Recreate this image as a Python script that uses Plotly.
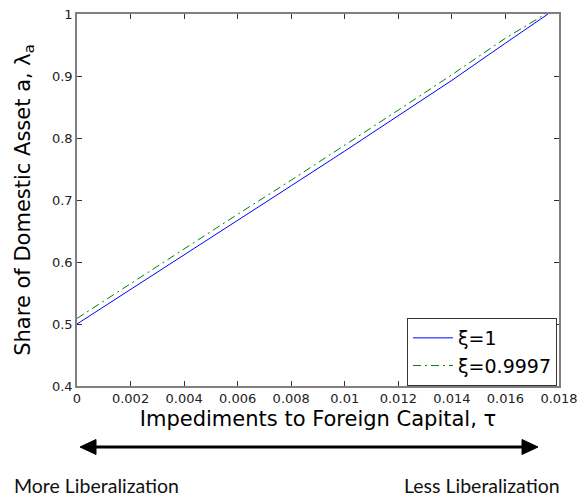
import plotly.graph_objects as go

# ---- data ----
tau_blue = [0.0, 0.002, 0.004, 0.006, 0.008, 0.010, 0.012, 0.014, 0.016, 0.01759]
lam_blue = [0.500, 0.5555, 0.611, 0.667, 0.723, 0.779, 0.836, 0.893, 0.953, 1.000]
tau_green = [0.0, 0.002, 0.004, 0.006, 0.008, 0.010, 0.012, 0.014, 0.016, 0.0175]
lam_green = [0.509, 0.565, 0.622, 0.677, 0.732, 0.788, 0.845, 0.902, 0.961, 1.000]

series_names = ["ξ=1", "ξ=0.9997"]
x_ticks = [0, 0.002, 0.004, 0.006, 0.008, 0.01, 0.012, 0.014, 0.016, 0.018]
x_tick_labels = ["0", "0.002", "0.004", "0.006", "0.008", "0.01", "0.012", "0.014", "0.016", "0.018"]
y_ticks = [0.4, 0.5, 0.6, 0.7, 0.8, 0.9, 1.0]
y_tick_labels = ["0.4", "0.5", "0.6", "0.7", "0.8", "0.9", "1"]

W, H = 578, 497
L, R, T, B = 77, 19, 14, 111
pw = W - L - R
ph = H - T - B

FONT = "DejaVu Sans"

def px_x(px):
    return (px - L) / pw

def px_y(py):
    return (H - B - py) / ph

fig = go.Figure()
fig.add_trace(go.Scatter(x=tau_blue, y=lam_blue, mode="lines", name=series_names[0],
                         line=dict(color="#0000FF", width=1)))
fig.add_trace(go.Scatter(x=tau_green, y=lam_green, mode="lines", name=series_names[1],
                         line=dict(color="#008000", width=1, dash="8px,4px,2px,4px")))

axis_common = dict(
    showgrid=False, zeroline=False, showline=True, linecolor="#7f7f7f", linewidth=1.5,
    mirror="ticks", ticks="inside", ticklen=5, tickcolor="#333333", tickwidth=1,
    tickfont=dict(family=FONT, size=13, color="#222222"), automargin=False,
)

fig.update_xaxes(range=[0, 0.018], tickvals=x_ticks, ticktext=x_tick_labels,
                 title=dict(text="Impediments to Foreign Capital, τ",
                            font=dict(family=FONT, size=21, color="#000"),
                            standoff=6),
                 **axis_common)
fig.update_yaxes(range=[0.4, 1.0], tickvals=y_ticks, ticktext=y_tick_labels,
                 title=dict(text="Share of Domestic Asset a, λ<sub>a</sub>",
                            font=dict(family=FONT, size=21, color="#000"),
                            standoff=16),
                 **axis_common)

# Arrow below the chart (double-headed)
y_ar = px_y(447)
shapes = [
    dict(type="line", xref="paper", yref="paper", x0=px_x(94), x1=px_x(524), y0=y_ar, y1=y_ar,
         line=dict(color="black", width=3)),
    dict(type="path", xref="paper", yref="paper", fillcolor="black", line=dict(color="black", width=1),
         path=f"M {px_x(80)} {y_ar} L {px_x(96)} {px_y(439.5)} L {px_x(96)} {px_y(454.5)} Z"),
    dict(type="path", xref="paper", yref="paper", fillcolor="black", line=dict(color="black", width=1),
         path=f"M {px_x(538)} {y_ar} L {px_x(522)} {px_y(439.5)} L {px_x(522)} {px_y(454.5)} Z"),
]

annotations = [
    dict(text="More Liberalization", xref="paper", yref="paper", x=px_x(12), y=px_y(485),
         xanchor="left", yanchor="middle", showarrow=False,
         font=dict(family="Lato", size=19.5, color="#111")),
    dict(text="Less Liberalization", xref="paper", yref="paper", x=px_x(562), y=px_y(485),
         xanchor="right", yanchor="middle", showarrow=False,
         font=dict(family="Lato", size=19.5, color="#111")),
]

fig.update_layout(
    width=W, height=H,
    margin=dict(l=L, r=R, t=T, b=B, autoexpand=False),
    paper_bgcolor="white", plot_bgcolor="white",
    showlegend=True,
    legend=dict(x=px_x(557), y=px_y(386), xanchor="right", yanchor="bottom",
                bgcolor="white", bordercolor="#333333", borderwidth=1,
                font=dict(family=FONT, size=19, color="#000"),
                tracegroupgap=0, itemwidth=40),
    shapes=shapes,
    annotations=annotations,
)

fig.write_html("out.html")
